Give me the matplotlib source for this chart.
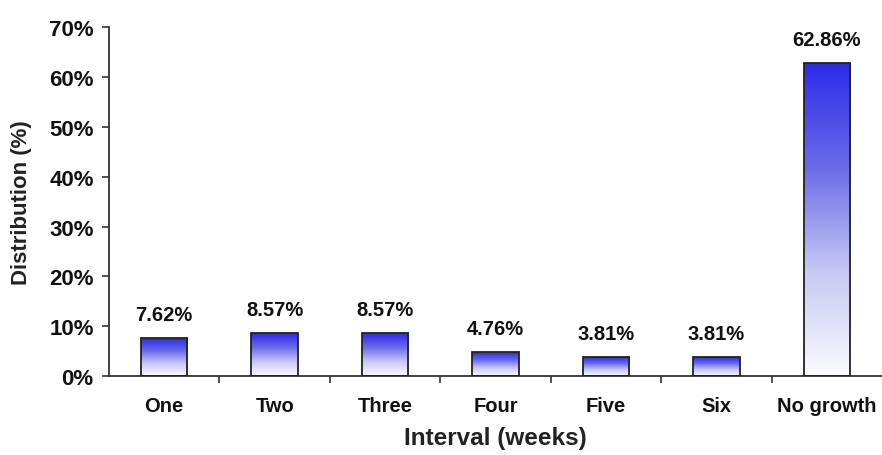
import matplotlib
matplotlib.use("Agg")
import matplotlib.pyplot as plt
import numpy as np
from matplotlib.colors import LinearSegmentedColormap
from matplotlib.ticker import FuncFormatter

plt.rcParams['font.family'] = ['Liberation Sans', 'DejaVu Sans']

categories = ["One", "Two", "Three", "Four", "Five", "Six", "No growth"]
values = [7.62, 8.57, 8.57, 4.76, 3.81, 3.81, 62.86]
labels = ["7.62%", "8.57%", "8.57%", "4.76%", "3.81%", "3.81%", "62.86%"]

fig = plt.figure(figsize=(8.82, 4.56), dpi=100)
ax = fig.add_axes([0.1236, 0.173, 0.8764, 0.7654])

cmap = LinearSegmentedColormap.from_list("bw", ["#fbfbfe", "#c8c8f4", "#6a6ae8", "#2b2bea"])
grad = np.linspace(0, 1, 256).reshape(-1, 1)
x = np.arange(len(categories))
width = 0.42

bars = ax.bar(x, values, width=width, facecolor="none", edgecolor="#222222", linewidth=1.3, zorder=3)
for b, v, lab in zip(bars, values, labels):
    x0 = b.get_x()
    im = ax.imshow(grad, cmap=cmap, origin="lower", aspect="auto",
                   extent=(x0, x0 + b.get_width(), 0, v), zorder=2, interpolation="bilinear")
    im.set_clip_path(b)
    ax.text(b.get_x() + b.get_width() / 2, v + 2.8, lab, ha="center", va="bottom",
            fontsize=14.5, fontweight="bold", color="#111111")

ax.set_xlim(-0.5, len(categories) - 0.5)
ax.set_ylim(0, 70)
ax.set_yticks(np.arange(0, 71, 10))
ax.yaxis.set_major_formatter(FuncFormatter(lambda v, p: f"{int(v)}%"))
ax.set_xticks(x)
ax.set_xticklabels(categories)
ax.set_xticks(np.arange(0.5, len(categories) - 0.5, 1), minor=True)
ax.tick_params(axis="x", which="major", length=0, pad=14, labelsize=14.5)
ax.tick_params(axis="x", which="minor", length=5, width=1.2, direction="out", color="#333333")
ax.tick_params(axis="y", length=5, width=1.2, direction="out", labelsize=16, pad=6, color="#333333")
for t in ax.get_xticklabels() + ax.get_yticklabels():
    t.set_fontweight("bold")
    t.set_color("#111111")

for side in ["top", "right"]:
    ax.spines[side].set_visible(False)
for side in ["left", "bottom"]:
    ax.spines[side].set_linewidth(1.3)
    ax.spines[side].set_color("#333333")

ax.set_ylabel("Distribution (%)", fontsize=16, fontweight="bold", labelpad=12, color="#222222")
ax.set_xlabel("Interval (weeks)", fontsize=17.5, fontweight="bold", labelpad=8, color="#222222")

fig.savefig("out.png", dpi=100)
